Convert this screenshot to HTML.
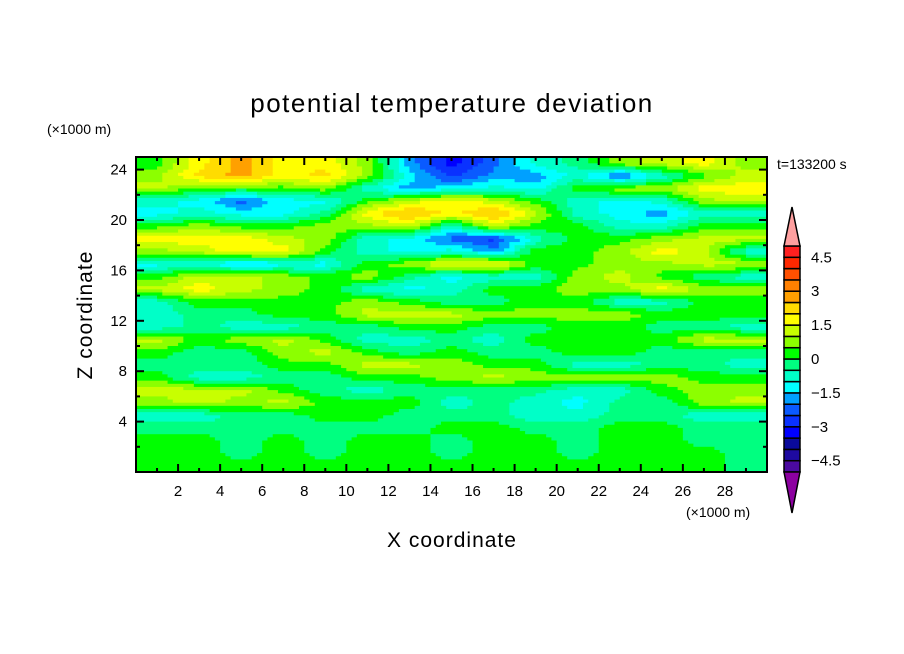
<!DOCTYPE html>
<html><head><meta charset="utf-8"><style>
body{margin:0;background:#fff;}
svg{display:block;font-family:"Liberation Sans","DejaVu Sans",sans-serif;}
</style></head><body>
<svg id="chart" width="904" height="654">
<text x="452" y="112" text-anchor="middle" font-size="26" letter-spacing="1.5">potential temperature deviation</text>
<text x="47" y="134" font-size="14">(×1000 m)</text>
<text x="686" y="517" font-size="14">(×1000 m)</text>
<text x="777" y="169" font-size="14">t=133200 s</text>
<text x="452" y="547" text-anchor="middle" font-size="21" letter-spacing="1">X coordinate</text>
<text transform="translate(92,315) rotate(-90)" text-anchor="middle" font-size="21" letter-spacing="1">Z coordinate</text>
<g id="field"></g>
<g id="axes"></g>
<g id="cbar"></g>
</svg>
<script>
const xTicks=[2,4,6,8,10,12,14,16,18,20,22,24,26,28];
const zTicks=[4,8,12,16,20,24];
const cbLabels=[4.5,3,1.5,0,-1.5,-3,-4.5];
const levels=[-5,-4.5,-4,-3.5,-3,-2.5,-2,-1.5,-1,-0.5,0,0.5,1,1.5,2,2.5,3,3.5,4,4.5,5];
const colors=["#4b0aa0","#1e0aa0","#0a0a9b","#0000ff","#0a32ff","#0a5aff","#00a0ff","#00ffff","#00ffc8","#00ff80","#00ff00","#8cff00","#c8ff00","#ffff00","#ffdc00","#ffa000","#ff8000","#ff5000","#ff2800","#ff2020"];
const field=[
[0.3,1.8,2.7,1.8,1.8,0.8,-1.8,-3.2,-2.2,-0.8,-0.3,0.8,1.2,1.8,0.8],
[0.8,2.2,2.7,1.8,2.2,0.8,-1.2,-2.7,-1.8,-1.8,-0.8,-2.2,-0.8,0.3,1.2],
[1.2,0.3,0.3,0.3,0.8,-0.8,-1.8,-1.2,-0.8,-1.2,0.3,0.8,0.8,1.8,1.8],
[-0.8,-1.2,-2.2,-1.2,-1.2,0.3,1.2,1.8,1.2,0.3,-0.8,-1.2,-0.8,0.8,1.2],
[-1.2,-0.8,-1.2,-1.2,-0.3,1.8,2.7,1.8,2.7,1.2,-0.8,-1.2,-1.8,-0.8,-0.8],
[0.3,0.8,0.3,0.3,0.8,0.8,1.2,-0.8,1.2,0.3,0.3,-0.8,-0.8,0.3,0.3],
[1.8,1.8,1.8,1.2,0.8,-0.8,-1.2,-2.2,-2.7,-0.8,0.3,0.3,0.8,1.2,1.2],
[0.8,1.2,1.8,1.8,0.3,-0.8,-1.2,-0.8,-1.8,0.3,0.3,0.8,1.8,1.2,-0.8],
[-1.2,-0.8,-1.8,-1.2,-1.2,0.3,0.8,1.8,1.8,0.3,0.3,0.8,0.8,1.2,1.2],
[0.3,1.2,1.2,0.8,0.3,0.8,-0.3,-1.2,-0.8,-0.8,0.8,1.2,0.3,-0.3,-0.8],
[1.2,1.8,1.2,0.8,0.3,-0.8,-1.2,-0.8,0.3,0.3,0.8,0.8,1.8,0.8,0.8],
[-0.8,0.3,0.3,0.3,0.3,0.8,0.3,-0.3,-0.3,0.3,0.3,-0.8,-0.8,0.3,0.3],
[-0.8,-0.3,-0.3,0.3,0.3,1.2,1.2,1.2,0.8,0.8,0.8,0.8,0.3,0.3,0.3],
[-0.8,-0.3,-0.8,-0.8,-0.3,-0.3,0.3,0.3,-0.3,-0.3,0.3,0.3,-0.3,-0.3,-0.8],
[1.2,0.3,0.8,1.2,0.3,-0.8,-0.8,-0.3,-0.8,0.3,0.3,0.3,0.3,1.2,1.2],
[0.3,-0.3,-0.3,0.8,1.2,0.3,-0.3,0.3,-0.3,-0.3,0.3,0.3,-0.3,-0.3,-0.3],
[-0.3,-0.3,-0.3,0.3,0.3,1.2,1.2,0.8,0.3,0.3,-0.8,-0.8,-0.3,-0.3,-0.8],
[0.3,-0.8,-0.8,-0.3,-0.3,0.3,0.3,0.8,1.2,0.8,0.8,0.8,0.8,0.3,0.3],
[1.2,1.2,1.2,0.3,-0.3,-0.8,-0.3,-0.3,-0.3,-0.3,-0.8,-0.8,0.3,0.8,0.8],
[0.8,1.2,0.8,1.2,0.3,0.3,0.3,-0.8,-0.3,-0.8,-1.2,-0.3,-0.3,0.8,1.2],
[-0.8,-0.8,-0.3,-0.3,0.3,0.3,-0.3,-0.3,-0.3,-0.8,-0.8,-0.3,-0.3,-0.8,-0.8],
[-0.3,-0.3,-0.3,-0.3,-0.3,-0.3,-0.3,0.3,0.3,-0.3,-0.3,0.3,0.3,-0.3,-0.3],
[0.3,0.3,-0.3,0.3,-0.3,0.3,0.3,-0.3,0.3,0.3,-0.3,0.3,0.3,-0.3,-0.3],
[0.3,0.3,-0.3,0.3,-0.3,0.3,0.3,-0.3,0.3,0.3,-0.3,0.3,0.3,0.3,-0.3],
[0.3,0.3,0.3,0.3,0.3,0.3,0.3,0.3,0.3,0.3,0.3,0.3,0.3,0.3,-0.3]
];
const NS="http://www.w3.org/2000/svg";
const X0=136,X1=767,Y0=157,Y1=472,XMAX=30,ZMAX=25;
function xs(v){return X0+v*(X1-X0)/XMAX;}
function zs(v){return Y1-v*(Y1-Y0)/ZMAX;}
function colorFor(v){for(let i=0;i<colors.length;i++){if(v<levels[i+1])return colors[i];}return colors[colors.length-1];}
function mk(tag,attrs,parent){const e=document.createElementNS(NS,tag);for(const k in attrs)e.setAttribute(k,attrs[k]);parent.appendChild(e);return e;}
const fg=document.getElementById('field');
const nr=field.length,nc=field[0].length,dx=XMAX/nc,dz=ZMAX/nr;
// sample field (cell-centred) bilinearly for a smooth contour look
function sample(x,z){
 let c=x/dx-0.5, r=(ZMAX-z)/dz-0.5;
 c=Math.max(0,Math.min(nc-1,c)); r=Math.max(0,Math.min(nr-1,r));
 const c0=Math.floor(c),r0=Math.floor(r),c1=Math.min(nc-1,c0+1),r1=Math.min(nr-1,r0+1);
 const fc=c-c0,fr=r-r0;
 const a=field[r0][c0]*(1-fc)+field[r0][c1]*fc;
 const b=field[r1][c0]*(1-fc)+field[r1][c1]*fc;
 return a*(1-fr)+b*fr;
}
const SX=120,SZ=100,sdx=XMAX/SX,sdz=ZMAX/SZ;
for(let j=0;j<SZ;j++){
 const zTop=ZMAX-j*sdz, zMid=zTop-sdz/2;
 let start=0,cur=colorFor(sample(sdx/2,zMid));
 for(let i=1;i<=SX;i++){
  const col=i<SX?colorFor(sample((i+0.5)*sdx,zMid)):null;
  if(col!==cur){
   const el=mk('rect',{x:xs(start*sdx),y:zs(zTop),width:xs(i*sdx)-xs(start*sdx)+0.5,height:zs(zTop-sdz)-zs(zTop)+0.5,fill:cur},fg);
   
   
   start=i;cur=col;
  }
 }
}
const ax=document.getElementById('axes');
const frame=mk('rect',{x:X0,y:Y0,width:X1-X0,height:Y1-Y0,fill:'none',stroke:'#000','stroke-width':2},ax);


for(let v=1;v<XMAX;v++){
 const len=(v%2===0)?8:4,x=xs(v);
 mk('line',{x1:x,y1:Y1,x2:x,y2:Y1-len,stroke:'#000','stroke-width':2},ax);
 mk('line',{x1:x,y1:Y0,x2:x,y2:Y0+len,stroke:'#000','stroke-width':2},ax);
}
for(let v=2;v<ZMAX;v+=2){
 const len=(v%4===0)?8:4,y=zs(v);
 mk('line',{x1:X0,y1:y,x2:X0+len,y2:y,stroke:'#000','stroke-width':2},ax);
 mk('line',{x1:X1,y1:y,x2:X1-len,y2:y,stroke:'#000','stroke-width':2},ax);
}
xTicks.forEach(v=>{const t=mk('text',{x:xs(v),y:Y1+24,'text-anchor':'middle','font-size':15},ax);t.textContent=v;
 
 });
zTicks.forEach(v=>{const t=mk('text',{x:X0-9,y:zs(v)+5,'text-anchor':'end','font-size':15},ax);t.textContent=v;
 
 });
const cb=document.getElementById('cbar');
const CX=784,CW=16,CB0=472,CB1=246;
function cs(v){return CB0-(v-levels[0])*(CB0-CB1)/(levels[levels.length-1]-levels[0]);}
colors.forEach((c,i)=>{const r=mk('rect',{x:CX,y:cs(levels[i+1]),width:CW,height:cs(levels[i])-cs(levels[i+1]),fill:c,stroke:'#000','stroke-width':1.5},cb);
 
 });
const up=mk('polygon',{points:`${CX},${CB1} ${CX+CW},${CB1} ${CX+CW/2},207`,fill:'#ffa0a0',stroke:'#000','stroke-width':1.5},cb);


const dn=mk('polygon',{points:`${CX},${CB0} ${CX+CW},${CB0} ${CX+CW/2},513`,fill:'#8c00a0',stroke:'#000','stroke-width':1.5},cb);


cbLabels.forEach(v=>{const t=mk('text',{x:811,y:cs(v)+5,'font-size':15},cb);t.textContent=String(v).replace('-','\u2212');
 
 });
</script>
</body></html>
